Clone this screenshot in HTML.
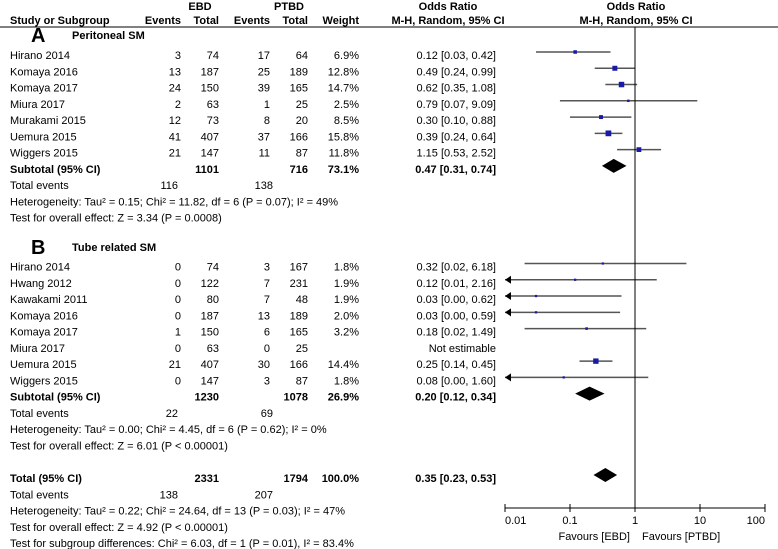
<!DOCTYPE html>
<html><head><meta charset="utf-8"><style>
html,body{margin:0;padding:0;background:#fff}
svg{display:block;font-family:"Liberation Sans",Arial,sans-serif;font-size:11px}
</style></head><body>
<svg id="fp" width="778" height="549" viewBox="0 0 778 549">
<g id="hdr">
<text x="200" y="10" text-anchor="middle" font-weight="bold">EBD</text>
<text x="289" y="10" text-anchor="middle" font-weight="bold">PTBD</text>
<text x="448" y="10" text-anchor="middle" font-weight="bold">Odds Ratio</text>
<text x="636" y="10" text-anchor="middle" font-weight="bold">Odds Ratio</text>
<text x="10" y="24" font-weight="bold">Study or Subgroup</text>
<text x="181" y="24" text-anchor="end" font-weight="bold">Events</text>
<text x="219" y="24" text-anchor="end" font-weight="bold">Total</text>
<text x="270" y="24" text-anchor="end" font-weight="bold">Events</text>
<text x="308" y="24" text-anchor="end" font-weight="bold">Total</text>
<text x="359" y="24" text-anchor="end" font-weight="bold">Weight</text>
<text x="448" y="24" text-anchor="middle" font-weight="bold">M-H, Random, 95% CI</text>
<text x="636" y="24" text-anchor="middle" font-weight="bold">M-H, Random, 95% CI</text>
<line x1="0" y1="27" x2="778" y2="27" stroke="#000" stroke-width="1"/>
</g>
<g id="rows"></g>
<g id="marks"></g>
<g id="axis"></g>
</svg>
<script>
// data
const studyNames=["Hirano 2014","Komaya 2016","Komaya 2017","Miura 2017","Murakami 2015","Uemura 2015","Wiggers 2015","Hirano 2014","Hwang 2012","Kawakami 2011","Komaya 2016","Komaya 2017","Miura 2017","Uemura 2015","Wiggers 2015"];
const studyRow=[0,1,2,3,4,5,6,13,14,15,16,17,18,19,20];
const ebdEvents=[3,13,24,2,12,41,21,0,0,0,0,1,0,21,0];
const ebdTotal=[74,187,150,63,73,407,147,74,122,80,187,150,63,407,147];
const ptbdEvents=[17,25,39,1,8,37,11,3,7,7,13,6,0,30,3];
const ptbdTotal=[64,189,165,25,20,166,87,167,231,48,189,165,25,166,87];
const weights=[6.9,12.8,14.7,2.5,8.5,15.8,11.8,1.8,1.9,1.9,2.0,3.2,null,14.4,1.8];
const orEst=[0.12,0.49,0.62,0.79,0.30,0.39,1.15,0.32,0.12,0.03,0.03,0.18,null,0.25,0.08];
const orLow=[0.03,0.24,0.35,0.07,0.10,0.24,0.53,0.02,0.01,0.00,0.00,0.02,null,0.14,0.00];
const orHigh=[0.42,0.99,1.08,9.09,0.88,0.64,2.52,6.18,2.16,0.62,0.59,1.49,null,0.45,1.60];
const poolRow=[7,21,26];
const poolLabel=["Subtotal (95% CI)","Subtotal (95% CI)","Total (95% CI)"];
const poolEbdTotal=[1101,1230,2331];
const poolPtbdTotal=[716,1078,1794];
const poolWeight=["73.1%","26.9%","100.0%"];
const poolEst=[0.47,0.20,0.35];
const poolLow=[0.31,0.12,0.23];
const poolHigh=[0.74,0.34,0.53];
const evRow=[8,22,27];
const evEbd=[116,22,138];
const evPtbd=[138,69,207];
const notes=[[9,"Heterogeneity: Tau² = 0.15; Chi² = 11.82, df = 6 (P = 0.07); I² = 49%"],[10,"Test for overall effect: Z = 3.34 (P = 0.0008)"],[23,"Heterogeneity: Tau² = 0.00; Chi² = 4.45, df = 6 (P = 0.62); I² = 0%"],[24,"Test for overall effect: Z = 6.01 (P < 0.00001)"],[28,"Heterogeneity: Tau² = 0.22; Chi² = 24.64, df = 13 (P = 0.03); I² = 47%"],[29,"Test for overall effect: Z = 4.92 (P < 0.00001)"],[30,"Test for subgroup differences: Chi² = 6.03, df = 1 (P = 0.01), I² = 83.4%"]];
const tickVals=[0.01,0.1,1,10,100];
const tickLabels=["0.01","0.1","1","10","100"];

const NS="http://www.w3.org/2000/svg";
const rowsG=document.getElementById('rows'),marksG=document.getElementById('marks'),axisG=document.getElementById('axis');
function rowY(i){return 52+i*16.27;}
function xScale(v){return 635+65*Math.log10(Math.max(v,0.01));}
function mk(tag,attrs,parent){const e=document.createElementNS(NS,tag);for(const k in attrs)e.setAttribute(k,attrs[k]);parent.appendChild(e);return e;}
function txt(x,y,s,anchor,bold,parent){const t=mk('text',{x:x,y:y,'text-anchor':anchor||'start'},parent);if(bold)t.setAttribute('font-weight','bold');t.textContent=s;return t;}
function f2(v){return v.toFixed(2);}

[[38,"A","Peritoneal SM"],[250,"B","Tube related SM"]].forEach(function(h){
  const yy=h[0];
  const a=txt(31,yy+4,h[1],'start',true,rowsG);a.setAttribute('font-size','20');
  
  
  const b=txt(72,yy+1,h[2],'start',true,rowsG);
  
  
});

studyNames.forEach(function(n,i){
  const y=rowY(studyRow[i]);const by=y+7;
  const g=mk('g',{},rowsG);
  
  
  txt(10,by,n,'start',false,g);
  txt(181,by,String(ebdEvents[i]),'end',false,g);
  txt(219,by,String(ebdTotal[i]),'end',false,g);
  txt(270,by,String(ptbdEvents[i]),'end',false,g);
  txt(308,by,String(ptbdTotal[i]),'end',false,g);
  if(weights[i]!==null){
    txt(359,by,weights[i].toFixed(1)+'%','end',false,g);
    txt(496,by,f2(orEst[i])+' ['+f2(orLow[i])+', '+f2(orHigh[i])+']','end',false,g);
    const lo=orLow[i];const x1=xScale(lo),x2=xScale(orHigh[i]);
    const ci=mk('line',{x1:x1,y1:y,x2:x2,y2:y,stroke:'#555','stroke-width':1.5},marksG);
    
    
    if(lo<=0.01){
      const ar=mk('polygon',{points:(x1)+','+y+' '+(x1+6)+','+(y-4)+' '+(x1+6)+','+(y+4),fill:'#000'},marksG);
      
      
    }
    const s=1.8+weights[i]*0.25,cx=xScale(orEst[i]);
    const sq=mk('rect',{x:cx-s/2,y:y-s/2,width:s,height:s,fill:'#1a1aa8'},marksG);
    
    
  } else {
    txt(496,by,'Not estimable','end',false,g);
  }
});

poolRow.forEach(function(r,i){
  const y=rowY(r),by=y+7;
  const g=mk('g',{},rowsG);
  
  
  txt(10,by,poolLabel[i],'start',true,g);
  txt(219,by,String(poolEbdTotal[i]),'end',true,g);
  txt(308,by,String(poolPtbdTotal[i]),'end',true,g);
  txt(359,by,poolWeight[i],'end',true,g);
  txt(496,by,f2(poolEst[i])+' ['+f2(poolLow[i])+', '+f2(poolHigh[i])+']','end',true,g);
  const xl=xScale(poolLow[i]),xr=xScale(poolHigh[i]),xc=xScale(poolEst[i]);
  const d=mk('polygon',{points:xl+','+y+' '+xc+','+(y-7)+' '+xr+','+y+' '+xc+','+(y+7),fill:'#000'},marksG);
  
  
});

evRow.forEach(function(r,i){
  const by=rowY(r)+7;
  const g=mk('g',{},rowsG);
  
  
  txt(10,by,'Total events','start',false,g);
  txt(178,by,String(evEbd[i]),'end',false,g);
  txt(273,by,String(evPtbd[i]),'end',false,g);
});
notes.forEach(function(n){
  const t=txt(10,rowY(n[0])+7,n[1],'start',false,rowsG);
  
  
});

const ref=mk('line',{x1:xScale(1),y1:27,x2:xScale(1),y2:508,stroke:'#000','stroke-width':1},axisG);


const ax=mk('line',{x1:xScale(tickVals[0]),y1:508,x2:xScale(tickVals[tickVals.length-1]),y2:508,stroke:'#000','stroke-width':1},axisG);


tickVals.forEach(function(v,i){
  const x=xScale(v);
  const tk=mk('line',{x1:x,y1:504,x2:x,y2:512,stroke:'#000'},axisG);
  
  
  let anchor='middle';
  if(i===0)anchor='start';
  if(i===tickVals.length-1)anchor='end';
  const t=txt(x,524,tickLabels[i],anchor,false,axisG);
  
  
});
const fl=txt(630,540,'Favours [EBD]','end',false,axisG);


const fr=txt(642,540,'Favours [PTBD]','start',false,axisG);


</script>
</body></html>
